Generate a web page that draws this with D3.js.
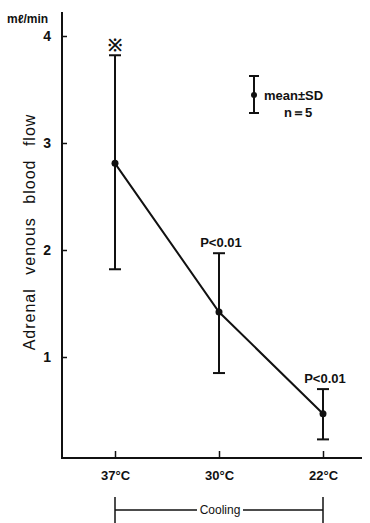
<!DOCTYPE html>
<html>
<head>
<meta charset="utf-8">
<script src="https://cdn.jsdelivr.net/npm/d3@7"></script>
<style>
  html, body { margin: 0; padding: 0; background: #fff; }
  svg { display: block; }
  text { font-family: "Liberation Sans", Arial, sans-serif; fill: #111; }
</style>
</head>
<body>
<svg id="chart" width="370" height="523"></svg>
<script>
// Temperatures (x categories) and adrenal venous blood flow (mℓ/min)
const temps = ["37°C", "30°C", "22°C"];
const means = [2.81, 1.42, 0.47];
const upper = [3.82, 1.97, 0.70];   // mean + SD
const lower = [1.82, 0.85, 0.23];   // mean - SD
const notes = ["※", "P<0.01", "P<0.01"];
const yTicks = [1, 2, 3, 4];

const svg = d3.select("#chart");
const ink = "#111";

const x = d3.scalePoint().domain(temps).range([115, 323]);
const y = d3.scaleLinear().domain([0, 4]).range([464, 36]);

const axisX0 = 62, axisY0 = 458;

// Axis lines
svg.append("line").attr("x1", axisX0).attr("x2", axisX0).attr("y1", 12).attr("y2", axisY0)
  .attr("stroke", ink).attr("stroke-width", 2);
svg.append("line").attr("x1", axisX0 - 1).attr("x2", 362).attr("y1", axisY0).attr("y2", axisY0)
  .attr("stroke", ink).attr("stroke-width", 2);

// Y axis: ticks pointing inward
const gy = svg.append("g").attr("transform", `translate(${axisX0},0)`)
  .call(d3.axisLeft(y).tickValues(yTicks).tickSize(-5).tickPadding(11).tickFormat(d3.format("d")));
gy.select(".domain").remove();
gy.selectAll(".tick line").attr("stroke", ink).attr("stroke-width", 1.5);
gy.selectAll(".tick text").attr("font-size", 14).attr("font-weight", "bold").attr("fill", ink);

// X axis: ticks pointing inward
const gx = svg.append("g").attr("transform", `translate(0,${axisY0})`)
  .call(d3.axisBottom(x).tickSize(-7).tickPadding(13));
gx.select(".domain").remove();
gx.selectAll(".tick line").attr("stroke", ink).attr("stroke-width", 1.5);
gx.selectAll(".tick text").attr("font-size", 13).attr("font-weight", "bold").attr("fill", ink);

// Units label
svg.append("text").attr("x", 7).attr("y", 23).attr("font-size", 12).attr("font-weight", "bold")
  .text("mℓ/min");

// Y axis title
svg.append("text")
  .attr("transform", "translate(35,232) rotate(-90)")
  .attr("text-anchor", "middle")
  .attr("font-size", 16)
  .attr("letter-spacing", 1)
  .attr("word-spacing", 8)
  .text("Adrenal venous blood flow");

// Connecting line through the means
const line = d3.line().x((d, i) => x(temps[i])).y(d => y(d));
svg.append("path").datum(means).attr("d", line)
  .attr("fill", "none").attr("stroke", ink).attr("stroke-width", 2);

// Error bars
const capW = 6;
const bars = svg.append("g").selectAll("g").data(temps).join("g");
bars.append("line")
  .attr("x1", d => x(d)).attr("x2", d => x(d))
  .attr("y1", (d, i) => y(upper[i])).attr("y2", (d, i) => y(lower[i]))
  .attr("stroke", ink).attr("stroke-width", 2);
bars.append("line")
  .attr("x1", d => x(d) - capW).attr("x2", d => x(d) + capW)
  .attr("y1", (d, i) => y(upper[i])).attr("y2", (d, i) => y(upper[i]))
  .attr("stroke", ink).attr("stroke-width", 2);
bars.append("line")
  .attr("x1", d => x(d) - capW).attr("x2", d => x(d) + capW)
  .attr("y1", (d, i) => y(lower[i])).attr("y2", (d, i) => y(lower[i]))
  .attr("stroke", ink).attr("stroke-width", 2);
bars.append("circle")
  .attr("cx", d => x(d)).attr("cy", (d, i) => y(means[i])).attr("r", 3.5)
  .attr("fill", ink);

// Significance notes above the error bars
bars.append("text")
  .attr("x", (d, i) => x(d) + (i === 0 ? 0 : 2))
  .attr("y", (d, i) => y(upper[i]) - (i === 0 ? 4 : 6))
  .attr("text-anchor", "middle")
  .attr("font-size", (d, i) => i === 0 ? 17 : 13)
  .attr("font-weight", "bold")
  .text((d, i) => notes[i]);

// Legend
const lg = svg.append("g");
const lx = 254;
lg.append("line").attr("x1", lx).attr("x2", lx).attr("y1", 76).attr("y2", 113)
  .attr("stroke", ink).attr("stroke-width", 2);
lg.append("line").attr("x1", lx - 5).attr("x2", lx + 5).attr("y1", 76).attr("y2", 76)
  .attr("stroke", ink).attr("stroke-width", 2);
lg.append("line").attr("x1", lx - 5).attr("x2", lx + 5).attr("y1", 113).attr("y2", 113)
  .attr("stroke", ink).attr("stroke-width", 2);
lg.append("circle").attr("cx", lx).attr("cy", 95).attr("r", 3).attr("fill", ink);
lg.append("text").attr("x", 264).attr("y", 100).attr("font-size", 13).attr("font-weight", "bold")
  .text("mean±SD");
lg.append("text").attr("x", 284).attr("y", 117).attr("font-size", 13).attr("font-weight", "bold")
  .text("n＝5");

// Cooling bracket
const by = 510;
const cg = svg.append("g");
[temps[0], temps[2]].forEach(t => {
  cg.append("line").attr("x1", x(t)).attr("x2", x(t)).attr("y1", 497).attr("y2", 523)
    .attr("stroke", ink).attr("stroke-width", 1.5);
});
cg.append("line").attr("x1", x(temps[0])).attr("x2", 197).attr("y1", by).attr("y2", by)
  .attr("stroke", ink).attr("stroke-width", 1.5);
cg.append("line").attr("x1", 243).attr("x2", x(temps[2])).attr("y1", by).attr("y2", by)
  .attr("stroke", ink).attr("stroke-width", 1.5);
cg.append("text").attr("x", 220).attr("y", by + 4).attr("text-anchor", "middle")
  .attr("font-size", 12).text("Cooling");
</script>
</body>
</html>
